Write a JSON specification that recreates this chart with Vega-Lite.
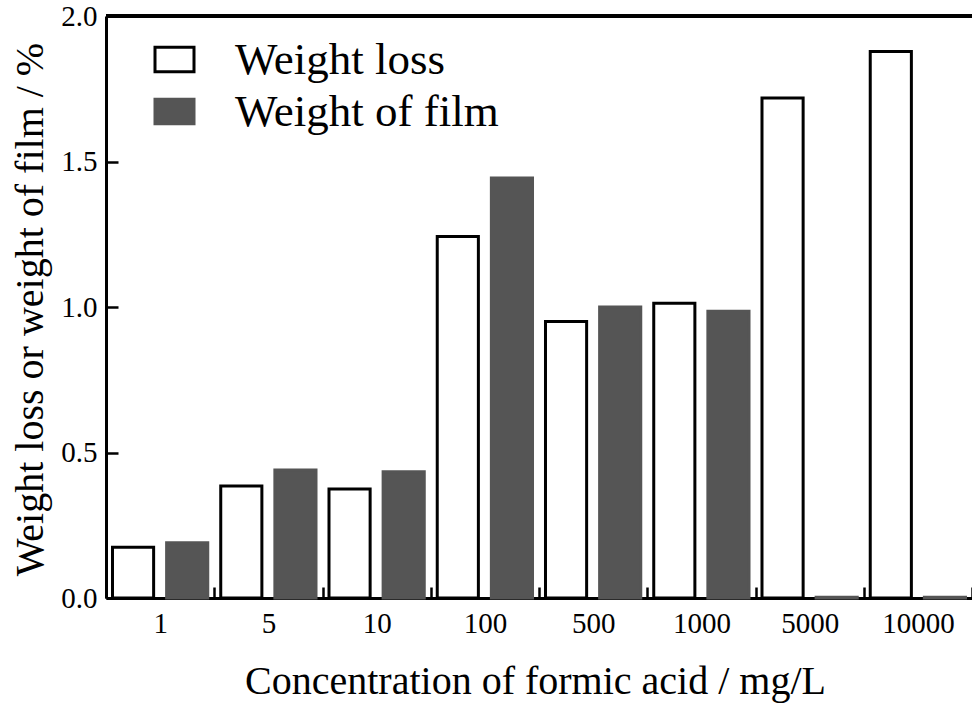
{
  "$schema": "https://vega.github.io/schema/vega-lite/v6.json",
  "width": 866,
  "height": 582,
  "autosize": {"type": "none"},
  "padding": {"left": 106, "top": 16, "right": 0, "bottom": 110},
  "background": "white",
  "config": {
    "view": {"stroke": null},
    "font": "Liberation Serif",
    "axis": {
      "domainColor": "black",
      "domainWidth": 3,
      "tickColor": "black",
      "tickWidth": 2.5,
      "labelColor": "black",
      "labelFont": "Liberation Serif",
      "labelFontSize": 29,
      "titleFont": "Liberation Serif",
      "titleFontSize": 40,
      "titleFontWeight": "normal",
      "titleColor": "black",
      "grid": false
    },
    "legend": {
      "orient": "none",
      "legendX": 46,
      "legendY": 21,
      "padding": 0,
      "symbolType": "M-1,-0.63H1V0.63H-1Z",
      "symbolSize": 1521,
      "symbolStrokeWidth": 3,
      "symbolOpacity": 1,
      "labelFont": "Liberation Serif",
      "labelFontSize": 45,
      "labelColor": "black",
      "labelOffset": 38,
      "labelLimit": 600,
      "rowPadding": 6
    }
  },
  "data": {
    "values": [
      {"conc": "1", "series": "Weight loss", "value": 0.174},
      {"conc": "1", "series": "Weight of film", "value": 0.19},
      {"conc": "5", "series": "Weight loss", "value": 0.385},
      {"conc": "5", "series": "Weight of film", "value": 0.44},
      {"conc": "10", "series": "Weight loss", "value": 0.375},
      {"conc": "10", "series": "Weight of film", "value": 0.434},
      {"conc": "100", "series": "Weight loss", "value": 1.242},
      {"conc": "100", "series": "Weight of film", "value": 1.443},
      {"conc": "500", "series": "Weight loss", "value": 0.95},
      {"conc": "500", "series": "Weight of film", "value": 1.0},
      {"conc": "1000", "series": "Weight loss", "value": 1.013},
      {"conc": "1000", "series": "Weight of film", "value": 0.985},
      {"conc": "5000", "series": "Weight loss", "value": 1.718},
      {"conc": "5000", "series": "Weight of film", "value": 0.003},
      {"conc": "10000", "series": "Weight loss", "value": 1.878},
      {"conc": "10000", "series": "Weight of film", "value": 0.003}
    ]
  },
  "layer": [
    {
      "mark": {"type": "bar", "strokeWidth": 3, "strokeJoin": "miter", "opacity": 1},
      "encoding": {
        "x": {
          "field": "conc",
          "type": "ordinal",
          "sort": ["1", "5", "10", "100", "500", "1000", "5000", "10000"],
          "scale": {"paddingInner": 0, "paddingOuter": 0},
          "axis": {
            "title": "Concentration of formic acid / mg/L",
            "labelAngle": 0,
            "tickBand": "extent",
            "tickSize": -11,
            "labelPadding": 22,
            "labelBaseline": "top",
            "titleX": 429,
            "titleY": 95,
            "titleBaseline": "alphabetic",
            "titleAnchor": null
          }
        },
        "xOffset": {
          "field": "series",
          "type": "nominal",
          "sort": ["Weight loss", "Weight of film"],
          "scale": {"paddingInner": 0.24, "paddingOuter": 0.12}
        },
        "y": {
          "field": "value",
          "type": "quantitative",
          "scale": {"domain": [0, 2], "nice": false},
          "axis": {
            "title": "Weight loss or weight of film / %",
            "values": [0, 0.5, 1, 1.5, 2],
            "format": ".1f",
            "tickSize": -12,
            "labelPadding": 21,
            "titleX": -64,
            "titleY": 293,
            "titleAngle": -90,
            "titleAlign": "center",
            "titleBaseline": "alphabetic"
          }
        },
        "fill": {
          "field": "series",
          "type": "nominal",
          "scale": {"domain": ["Weight loss", "Weight of film"], "range": ["white", "#555555"]},
          "legend": {"title": null}
        },
        "stroke": {
          "field": "series",
          "type": "nominal",
          "scale": {"domain": ["Weight loss", "Weight of film"], "range": ["black", "#555555"]},
          "legend": {"title": null}
        }
      }
    },
    {
      "mark": {"type": "rule", "strokeWidth": 3, "color": "black"},
      "encoding": {"y": {"datum": 2}}
    }
  ]
}
